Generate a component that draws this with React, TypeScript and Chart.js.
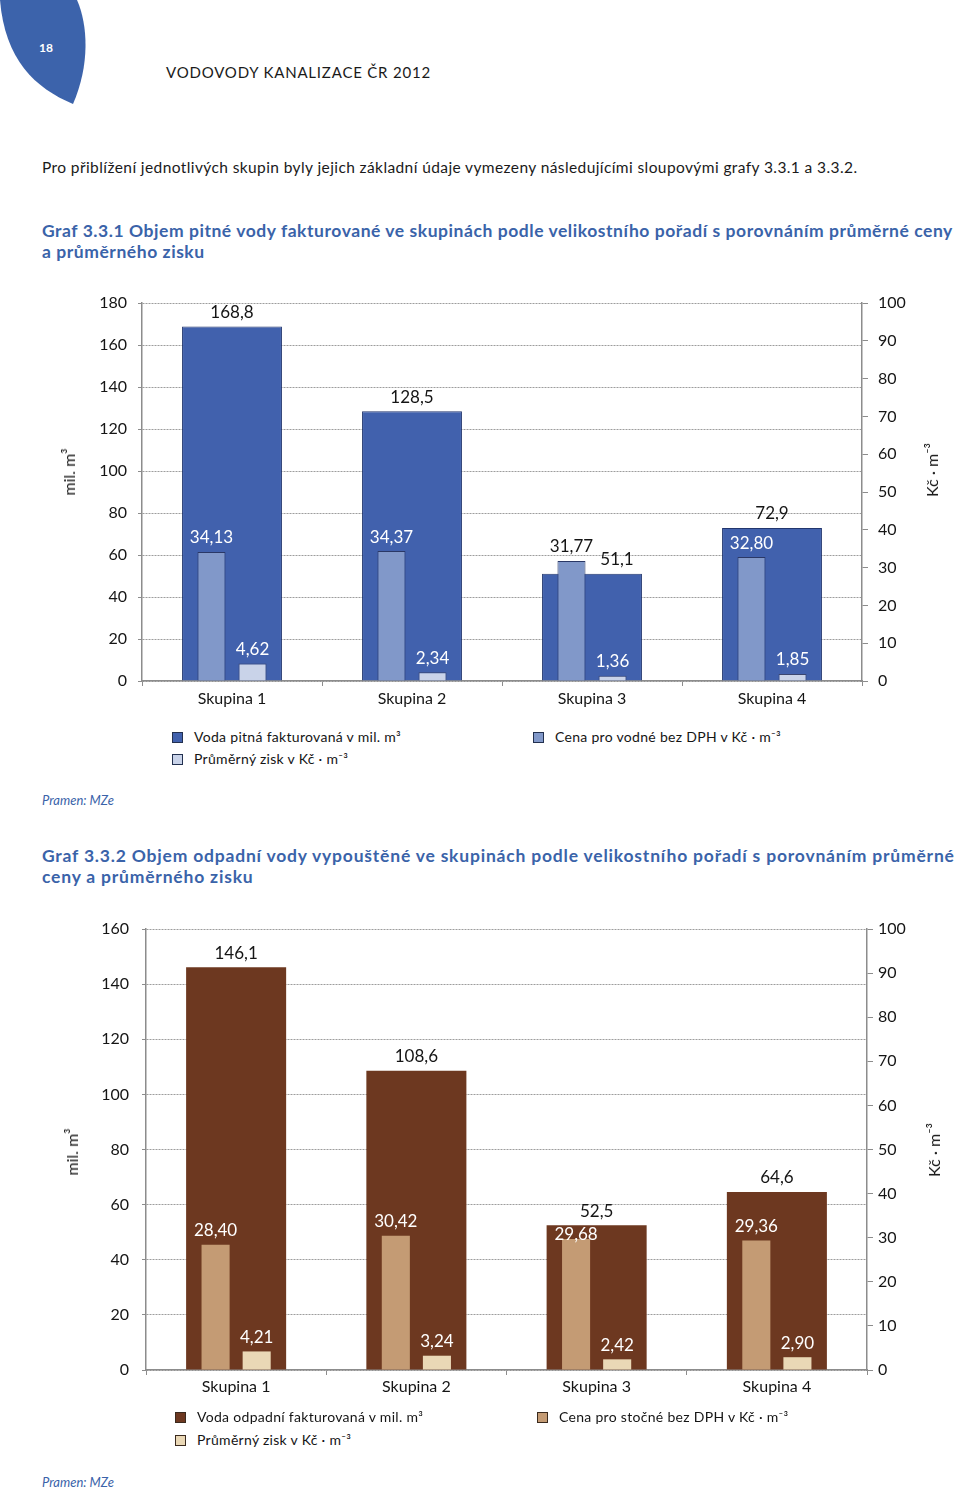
import React, { useEffect, useRef } from 'react';
import { Chart, registerables } from 'chart.js';

Chart.register(...registerables);

const FONT = 'Lato, "Open Sans", "DejaVu Sans", sans-serif';

// ---------- data ----------
const CATEGORIES = ['Skupina 1', 'Skupina 2', 'Skupina 3', 'Skupina 4'];

const WATER_SERIES = [
  'Voda pitná fakturovaná v mil. m³',
  'Cena pro vodné bez DPH v Kč · m⁻³',
  'Průměrný zisk v Kč · m⁻³',
];
const WATER_VOLUME = [168.8, 128.5, 51.1, 72.9];
const WATER_PRICE = [34.13, 34.37, 31.77, 32.8];
const WATER_PROFIT = [4.62, 2.34, 1.36, 1.85];
const WATER_LEFT_TICKS = [0, 20, 40, 60, 80, 100, 120, 140, 160, 180];

const SEWAGE_SERIES = [
  'Voda odpadní fakturovaná v mil. m³',
  'Cena pro stočné bez DPH v Kč · m⁻³',
  'Průměrný zisk v Kč · m⁻³',
];
const SEWAGE_VOLUME = [146.1, 108.6, 52.5, 64.6];
const SEWAGE_PRICE = [28.4, 30.42, 29.68, 29.36];
const SEWAGE_PROFIT = [4.21, 3.24, 2.42, 2.9];
const SEWAGE_LEFT_TICKS = [0, 20, 40, 60, 80, 100, 120, 140, 160];

const PRICE_TICKS = [0, 10, 20, 30, 40, 50, 60, 70, 80, 90, 100];

// ---------- styles ----------
const WATER_LOOK = {
  fills: ['#4161AD', '#8198C9', '#C9D3E9'],
  borders: ['#22366E', '#2A3866', '#3A4670'],
  borderWidth: 1,
  top: 280,
  height: 440,
  padTop: 23,
  xHeight: 39,
  leftWidth: 102,
  rightWidth: 98,
  leftPad: 11,
  rightPad: 10,
  xPad: 3,
  mainShift: [0, 0, 25, 0],
};
const SEWAGE_LOOK = {
  fills: ['#6D3820', '#C49B74', '#EAD8B6'],
  borders: ['#5E2F1A', '#B88D66', '#DCC8A4'],
  borderWidth: 0,
  top: 905,
  height: 505,
  padTop: 24,
  xHeight: 40,
  leftWidth: 106,
  rightWidth: 93,
  leftPad: 13,
  rightPad: 5,
  xPad: 2,
  mainShift: [0, 0, 0, 0],
};

const AXIS_GRAY = '#8c8c8c';

const valueLabels = {
  id: 'valueLabels',
  afterDatasetsDraw(chart: any, _args: any, opts: any) {
    const ctx = chart.ctx;
    const mainMeta = chart.getDatasetMeta(0);
    ctx.save();
    ctx.font = `17px ${FONT}`;
    ctx.textAlign = 'center';
    ctx.textBaseline = 'middle';
    chart.data.datasets.forEach((ds: any, di: number) => {
      const meta = chart.getDatasetMeta(di);
      meta.data.forEach((bar: any, i: number) => {
        const v = ds.data[i] as number;
        const text = v.toFixed(di === 0 ? 1 : 2).replace('.', ',');
        let x = bar.x;
        let y = bar.y - 14;
        let color = '#151515';
        if (di === 0) {
          x += (opts.mainShift && opts.mainShift[i]) || 0;
        } else {
          const top = mainMeta.data[i].y;
          if (y > top - 4) {
            color = '#ffffff';
            if (y - 7 < top) y = top + 9;
          }
        }
        ctx.fillStyle = color;
        ctx.fillText(text, x, y);
      });
    });
    ctx.restore();
  },
};

function buildConfig(
  series: string[],
  volume: number[],
  price: number[],
  profit: number[],
  leftTicks: number[],
  look: any
): any {
  const tickFont = { family: FONT, size: 16 };
  const setTicks = (list: number[]) => (scale: any) => {
    scale.ticks = list.map((v) => ({ value: v }));
  };
  return {
    type: 'bar',
    data: {
      labels: CATEGORIES,
      datasets: [
        {
          label: series[0],
          data: volume,
          yAxisID: 'y',
          grouped: false,
          backgroundColor: look.fills[0],
          borderColor: look.borders[0],
          borderWidth: look.borderWidth,
          barPercentage: 0.555,
          categoryPercentage: 1,
          order: 2,
        },
        {
          label: series[1],
          data: price,
          yAxisID: 'y1',
          backgroundColor: look.fills[1],
          borderColor: look.borders[1],
          borderWidth: look.borderWidth,
          barPercentage: 0.683,
          categoryPercentage: 0.456,
          order: 1,
        },
        {
          label: series[2],
          data: profit,
          yAxisID: 'y1',
          backgroundColor: look.fills[2],
          borderColor: look.borders[2],
          borderWidth: look.borderWidth,
          barPercentage: 0.683,
          categoryPercentage: 0.456,
          order: 1,
        },
      ],
    },
    options: {
      responsive: false,
      maintainAspectRatio: false,
      animation: false,
      layout: { padding: { top: look.padTop, left: 0, right: 0, bottom: 0 } },
      plugins: {
        legend: { display: false },
        tooltip: { enabled: false },
        valueLabels: { mainShift: look.mainShift },
      },
      scales: {
        x: {
          type: 'category',
          position: 'bottom',
          offset: true,
          grid: {
            display: true,
            offset: true,
            drawOnChartArea: false,
            drawTicks: true,
            tickLength: 5,
            color: AXIS_GRAY,
          },
          border: { display: true, color: AXIS_GRAY, width: 1.5 },
          ticks: { font: tickFont, color: '#151515', padding: look.xPad, maxRotation: 0 },
          afterFit: (s: any) => {
            s.height = look.xHeight;
          },
        },
        y: {
          type: 'linear',
          position: 'left',
          min: leftTicks[0],
          max: leftTicks[leftTicks.length - 1],
          afterBuildTicks: setTicks(leftTicks),
          grid: {
            color: '#9d9d9d',
            lineWidth: 1,
            drawTicks: true,
            tickLength: 4,
            tickColor: AXIS_GRAY,
          },
          border: { display: true, color: AXIS_GRAY, width: 1.5, dash: [2, 1] },
          ticks: {
            font: tickFont,
            color: '#151515',
            padding: look.leftPad,
            callback: (v: any) => String(v),
          },
          afterFit: (s: any) => {
            s.width = look.leftWidth;
          },
        },
        y1: {
          type: 'linear',
          position: 'right',
          min: PRICE_TICKS[0],
          max: PRICE_TICKS[PRICE_TICKS.length - 1],
          afterBuildTicks: setTicks(PRICE_TICKS),
          grid: {
            drawOnChartArea: false,
            drawTicks: true,
            tickLength: 6,
            color: AXIS_GRAY,
            tickColor: AXIS_GRAY,
          },
          border: { display: true, color: AXIS_GRAY, width: 1.5 },
          ticks: {
            font: tickFont,
            color: '#151515',
            padding: look.rightPad,
            callback: (v: any) => String(v),
          },
          afterFit: (s: any) => {
            s.width = look.rightWidth;
          },
        },
      },
    },
    plugins: [valueLabels],
  };
}

function BarChart(props: {
  series: string[];
  volume: number[];
  price: number[];
  profit: number[];
  leftTicks: number[];
  look: any;
}) {
  const ref = useRef<HTMLCanvasElement>(null);
  useEffect(() => {
    const chart = new Chart(
      ref.current as HTMLCanvasElement,
      buildConfig(props.series, props.volume, props.price, props.profit, props.leftTicks, props.look)
    );
    return () => chart.destroy();
  }, []);
  return (
    <canvas
      ref={ref}
      width={920}
      height={props.look.height}
      style={{
        position: 'absolute',
        left: 40,
        top: props.look.top,
        width: 920,
        height: props.look.height,
      }}
    />
  );
}

function Legend(props: {
  series: string[];
  fills: string[];
  edge: string;
  rows: number[];
  cols: number[];
}) {
  const slots = [
    [props.cols[0], props.rows[0]],
    [props.cols[1], props.rows[0]],
    [props.cols[0], props.rows[1]],
  ];
  return (
    <>
      {props.series.map((name, i) => (
        <div
          key={name}
          style={{
            position: 'absolute',
            left: slots[i][0],
            top: slots[i][1] - 9,
            height: 18,
            display: 'flex',
            alignItems: 'center',
            fontSize: 14,
            lineHeight: '18px',
            letterSpacing: 0.3,
            color: '#151515',
            whiteSpace: 'nowrap',
          }}
        >
          <span
            style={{
              display: 'inline-block',
              width: 9,
              height: 9,
              background: props.fills[i],
              border: `1px solid ${props.edge}`,
              marginRight: 11,
            }}
          />
          {name}
        </div>
      ))}
    </>
  );
}

const BLUE = '#3A63A9';

function AxisTitle(props: { x: number; y: number; text: string }) {
  return (
    <div
      style={{
        position: 'absolute',
        left: props.x,
        top: props.y,
        transform: 'translate(-50%, -50%) rotate(-90deg)',
        fontSize: 16,
        lineHeight: '18px',
        color: '#151515',
        whiteSpace: 'nowrap',
      }}
    >
      {props.text}
    </div>
  );
}

function TextLine(props: { x: number; y: number; text: string; style?: any }) {
  return (
    <div
      style={{
        position: 'absolute',
        left: props.x,
        top: props.y,
        whiteSpace: 'nowrap',
        ...props.style,
      }}
    >
      {props.text}
    </div>
  );
}

export default function App() {
  const titleStyle = {
    fontSize: 17.5,
    fontWeight: 700,
    color: BLUE,
    lineHeight: '21px',
  };
  const sourceStyle = { fontSize: 13, fontStyle: 'italic', color: BLUE, lineHeight: '16px' };
  return (
    <div
      style={{
        position: 'absolute',
        left: 0,
        top: 0,
        width: 960,
        height: 1490,
        background: '#ffffff',
        overflow: 'hidden',
        fontFamily: FONT,
      }}
    >
      <svg width={100} height={110} style={{ position: 'absolute', left: 0, top: 0 }}>
        <path d="M 0 0 L 77 0 C 88 25 90 65 73 104 C 35 88 5 60 0 0 Z" fill="#3C63AB" />
        <text x={46} y={52} fill="#ffffff" fontSize={12} fontWeight={700} textAnchor="middle" fontFamily={FONT}>
          18
        </text>
      </svg>
      <TextLine
        x={166}
        y={63}
        text="VODOVODY KANALIZACE ČR 2012"
        style={{ fontSize: 15, lineHeight: '18px', color: '#1a1a1a', letterSpacing: 0.8 }}
      />
      <TextLine
        x={42}
        y={158}
        text="Pro přiblížení jednotlivých skupin byly jejich základní údaje vymezeny následujícími sloupovými grafy 3.3.1 a 3.3.2."
        style={{ fontSize: 15.5, lineHeight: '18px', color: '#1a1a1a', letterSpacing: 0.4 }}
      />
      <TextLine
        x={42}
        y={220}
        text="Graf 3.3.1 Objem pitné vody fakturované ve skupinách podle velikostního pořadí s porovnáním průměrné ceny"
        style={{ ...titleStyle, letterSpacing: 0.55 }}
      />
      <TextLine x={42} y={241} text="a průměrného zisku" style={{ ...titleStyle, letterSpacing: 0.55 }} />

      <BarChart
        series={WATER_SERIES}
        volume={WATER_VOLUME}
        price={WATER_PRICE}
        profit={WATER_PROFIT}
        leftTicks={WATER_LEFT_TICKS}
        look={WATER_LOOK}
      />
      <AxisTitle x={69} y={472} text="mil. m³" />
      <AxisTitle x={932} y={470} text="Kč · m⁻³" />
      <Legend
        series={WATER_SERIES}
        fills={WATER_LOOK.fills}
        edge="#22304f"
        rows={[737, 759]}
        cols={[172, 533]}
      />
      <TextLine x={42} y={792} text="Pramen: MZe" style={sourceStyle} />

      <TextLine
        x={42}
        y={845}
        text="Graf 3.3.2 Objem odpadní vody vypouštěné ve skupinách podle velikostního pořadí s porovnáním průměrné"
        style={{ ...titleStyle, letterSpacing: 0.8 }}
      />
      <TextLine x={42} y={866} text="ceny a průměrného zisku" style={{ ...titleStyle, letterSpacing: 0.8 }} />

      <BarChart
        series={SEWAGE_SERIES}
        volume={SEWAGE_VOLUME}
        price={SEWAGE_PRICE}
        profit={SEWAGE_PROFIT}
        leftTicks={SEWAGE_LEFT_TICKS}
        look={SEWAGE_LOOK}
      />
      <AxisTitle x={72} y={1152} text="mil. m³" />
      <AxisTitle x={934} y={1150} text="Kč · m⁻³" />
      <Legend
        series={SEWAGE_SERIES}
        fills={SEWAGE_LOOK.fills}
        edge="#3a2a1e"
        rows={[1417, 1440]}
        cols={[175, 537]}
      />
      <TextLine x={42} y={1474} text="Pramen: MZe" style={sourceStyle} />
    </div>
  );
}
